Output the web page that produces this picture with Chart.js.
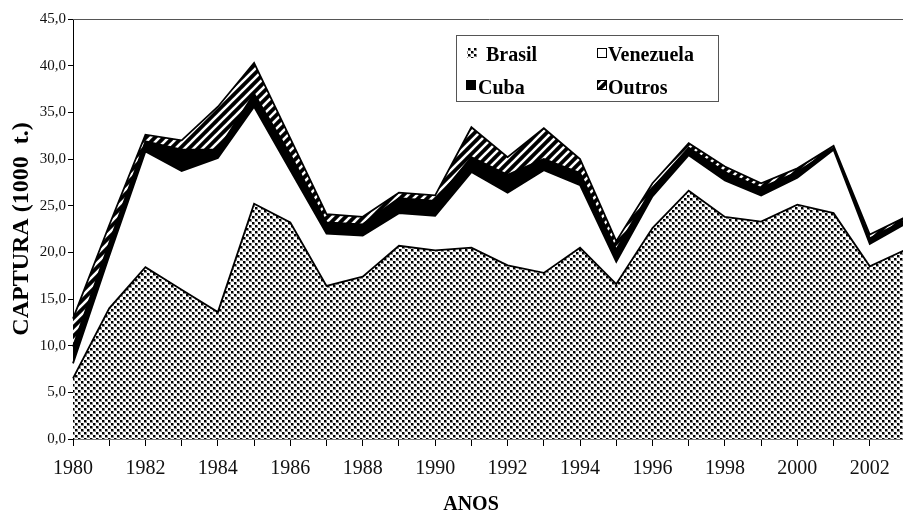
<!DOCTYPE html>
<html>
<head>
<meta charset="utf-8">
<script src="https://cdn.jsdelivr.net/npm/chart.js@4/dist/chart.umd.min.js"></script>
<style>
  html, body { margin: 0; padding: 0; background: #fff; overflow: hidden; width: 903px; height: 518px; }
  #wrap { width: 930px; height: 518px; }
</style>
</head>
<body>
<div id="wrap"><canvas id="c" width="930" height="518"></canvas></div>
<script>
// ---- data ----
const years = ['1980','1981','1982','1983','1984','1985','1986','1987','1988','1989','1990','1991',
               '1992','1993','1994','1995','1996','1997','1998','1999','2000','2001','2002','2003'];
const xTickLabels = ['1980','','1982','','1984','','1986','','1988','','1990','',
                     '1992','','1994','','1996','','1998','','2000','','2002',''];
const brasil    = [6.5,14.0,18.4,16.0,13.6,25.2,23.2,16.4,17.4,20.7,20.2,20.5,18.6,17.8,20.5,16.6,22.6,26.6,23.8,23.3,25.1,24.2,18.5,20.3];
const venezuela = [1.6,5.6,12.4,12.7,16.5,10.4,5.6,5.6,4.4,3.5,3.7,8.1,7.8,11.0,6.7,2.4,3.4,3.8,3.9,2.8,2.9,6.8,2.4,2.8];
const cuba      = [1.8,1.4,1.1,2.3,0.9,1.4,1.7,1.2,1.2,1.6,1.6,1.6,1.9,1.2,1.3,1.3,0.9,0.8,0.9,0.8,0.6,0.2,0.6,0.4];
const outros    = [3.0,1.9,0.7,1.0,4.6,3.3,1.7,0.9,0.8,0.6,0.6,3.2,1.9,3.3,1.5,0.9,0.5,0.5,0.6,0.5,0.4,0.2,0.4,0.3];
const seriesNames = ['Brasil','Venezuela','Cuba','Outros'];

// ---- patterns ----
function dotPattern() {
  const t = document.createElement('canvas'); t.width = 6; t.height = 6;
  const g = t.getContext('2d');
  g.fillStyle = '#fff'; g.fillRect(0,0,6,6);
  g.fillStyle = '#8a8a8a'; g.fillRect(0,0,3,3); g.fillRect(3,3,3,3);
  g.fillStyle = '#000'; g.fillRect(0,0,2,2); g.fillRect(3,3,2,2);
  return g.createPattern(t, 'repeat');
}
function stripePattern() {
  const s = 9;
  const t = document.createElement('canvas'); t.width = s; t.height = s;
  const g = t.getContext('2d');
  g.fillStyle = '#000'; g.fillRect(0,0,s,s);
  g.strokeStyle = '#fff'; g.lineWidth = 2.6;
  [[0,s,s,0],[-s/2,s/2,s/2,-s/2],[s/2,s*1.5,s*1.5,s/2]].forEach(l => {
    g.beginPath(); g.moveTo(l[0],l[1]); g.lineTo(l[2],l[3]); g.stroke();
  });
  return g.createPattern(t, 'repeat');
}
const fills = [dotPattern(), '#ffffff', '#000000', stripePattern()];
const serif = '"Liberation Serif", "Times New Roman", serif';

const overlay = {
  id: 'overlay',
  afterDraw(chart) {
    const ctx = chart.ctx, a = chart.chartArea;
    ctx.save();
    // top border
    ctx.strokeStyle = '#555'; ctx.lineWidth = 1;
    ctx.beginPath(); ctx.moveTo(a.left, a.top + 0.5); ctx.lineTo(a.right, a.top + 0.5); ctx.stroke();
    // legend box
    ctx.fillStyle = '#fff';
    ctx.fillRect(456, 35, 262, 66);
    ctx.strokeStyle = '#555';
    ctx.strokeRect(456.5, 35.5, 262, 66);
    const items = [
      {i:0, bx:467, by:48, tx:486, ty:61},
      {i:1, bx:597, by:48, tx:608, ty:61},
      {i:2, bx:466, by:80, tx:478, ty:94},
      {i:3, bx:597, by:80, tx:608, ty:94}
    ];
    ctx.font = 'bold 20px ' + serif;
    ctx.textBaseline = 'alphabetic';
    ctx.textAlign = 'left';
    items.forEach(it => {
      ctx.fillStyle = fills[it.i];
      ctx.fillRect(it.bx, it.by, 10, 10);
      if (it.i === 1 || it.i === 3) {
        ctx.strokeStyle = '#000'; ctx.lineWidth = 1;
        ctx.strokeRect(it.bx + 0.5, it.by + 0.5, 9, 9);
      }
      ctx.fillStyle = '#000';
      ctx.fillText(seriesNames[it.i], it.tx, it.ty);
    });
    // x title
    ctx.font = 'bold 20px ' + serif;
    ctx.textAlign = 'center';
    ctx.textBaseline = 'middle';
    ctx.fillText('ANOS', 471, 505);
    ctx.restore();
  }
};

const data = [brasil, venezuela, cuba, outros];
new Chart(document.getElementById('c'), {
  type: 'line',
  data: {
    labels: years,
    datasets: data.map((d, k) => ({
      label: seriesNames[k],
      data: d,
      backgroundColor: fills[k],
      borderColor: '#000',
      borderWidth: 1.8,
      pointRadius: 0,
      tension: 0,
      fill: k === 0 ? 'origin' : '-1'
    }))
  },
  options: {
    responsive: false,
    animation: false,
    devicePixelRatio: 1,
    layout: { padding: { left: 0, top: 19, right: 24, bottom: 0 } },
    plugins: { legend: { display: false }, tooltip: { enabled: false } },
    scales: {
      x: {
        type: 'category',
        offset: false,
        grid: { display: true, drawOnChartArea: false, drawTicks: true, tickLength: 7, color: '#000' },
        border: { display: true, color: '#777', width: 1 },
        ticks: {
          autoSkip: false, maxRotation: 0, minRotation: 0, padding: 11,
          color: '#111', font: { family: serif, size: 20 },
          callback: (v, i) => xTickLabels[i]
        },
        afterFit: s => { s.height = 79; }
      },
      y: {
        stacked: true,
        min: 0, max: 45,
        grid: { display: true, drawOnChartArea: false, drawTicks: true, tickLength: 5, color: '#000' },
        border: { display: true, color: '#000', width: 1 },
        ticks: {
          stepSize: 5, padding: 2, color: '#111',
          font: { family: serif, size: 15 },
          callback: v => Number(v).toFixed(1).replace('.', ',')
        },
        title: {
          display: true, text: 'CAPTURA (1000  t.)', color: '#000',
          font: { family: serif, size: 24, weight: 'bold' },
          padding: { top: 7, bottom: 0 }
        },
        afterFit: s => { s.width = 73; }
      }
    }
  },
  plugins: [overlay]
});
</script>
</body>
</html>
